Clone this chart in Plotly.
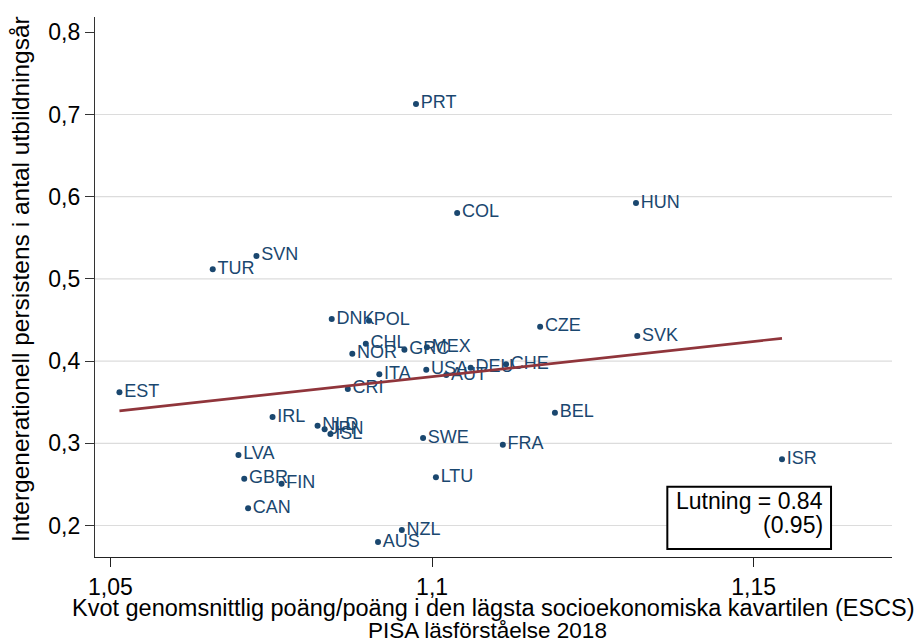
import plotly.graph_objects as go

countries = ["PRT", "COL", "HUN", "SVN", "TUR", "DNK", "POL", "CHL", "NOR", "GRC",
             "MEX", "CZE", "SVK", "ITA", "CRI", "USA", "AUT", "DEU", "CHE", "EST",
             "IRL", "NLD", "JPN", "ISL", "BEL", "SWE", "FRA", "ISR", "LVA", "GBR",
             "FIN", "LTU", "CAN", "NZL", "AUS"]
ratio = [1.0975, 1.1039, 1.1317, 1.0727, 1.0659, 1.0844, 1.0902, 1.0897, 1.0876, 1.0957,
         1.0992, 1.1168, 1.1319, 1.0918, 1.0869, 1.0991, 1.1022, 1.1060, 1.1115, 1.0514,
         1.0752, 1.0822, 1.0833, 1.0842, 1.1191, 1.0986, 1.1110, 1.1544, 1.0699, 1.0708,
         1.0766, 1.1006, 1.0714, 1.0953, 1.0916]
persistence = [0.7128, 0.5802, 0.5923, 0.5279, 0.5117, 0.4512, 0.4491, 0.4212, 0.4090, 0.4139,
               0.4168, 0.4418, 0.4305, 0.3839, 0.3661, 0.3895, 0.3831, 0.3920, 0.3961, 0.3620,
               0.3320, 0.3214, 0.3170, 0.3113, 0.3372, 0.3064, 0.2983, 0.2805, 0.2858, 0.2569,
               0.2509, 0.2586, 0.2209, 0.1945, 0.1799]

fit_slope = 0.856
fit_intercept = -0.5605

x_ticks = [1.05, 1.1, 1.15]
x_ticktext = ["1,05", "1,1", "1,15"]
y_ticks = [0.2, 0.3, 0.4, 0.5, 0.6, 0.7, 0.8]
y_ticktext = ["0,2", "0,3", "0,4", "0,5", "0,6", "0,7", "0,8"]
grid_vals = [0.2, 0.3, 0.4, 0.5, 0.6, 0.7]

NAVY = "#1a476f"
MAROON = "#90353b"
FONT = "Liberation Sans, Arial, sans-serif"

fx = [min(ratio), max(ratio)]
fy = [fit_intercept + fit_slope * v for v in fx]

fig = go.Figure()
fig.add_trace(go.Scatter(
    x=ratio, y=persistence, mode="markers+text", text=countries,
    textposition="middle right",
    marker=dict(color=NAVY, size=6),
    textfont=dict(color=NAVY, size=18, family=FONT),
    cliponaxis=False, showlegend=False, hoverinfo="skip"))
fig.add_trace(go.Scatter(
    x=fx, y=fy, mode="lines", line=dict(color=MAROON, width=2.6),
    showlegend=False, hoverinfo="skip"))

shapes = []
for g in grid_vals:
    shapes.append(dict(type="line", xref="paper", yref="y", x0=0, x1=1, y0=g, y1=g,
                       line=dict(color="#dcdcdc", width=1.2), layer="below"))
# legend-like box
shapes.append(dict(type="rect", xref="paper", yref="paper", x0=0.7181, x1=0.9235,
                   y0=0.0148, y1=0.1302, line=dict(color="black", width=2),
                   fillcolor="white", layer="above"))

annotations = [
    dict(text="Lutning = 0.84", xref="paper", yref="paper", x=0.9160, y=0.1043,
         xanchor="right", yanchor="middle", showarrow=False,
         font=dict(size=23, color="black", family=FONT)),
    dict(text="(0.95)", xref="paper", yref="paper", x=0.9160, y=0.0593,
         xanchor="right", yanchor="middle", showarrow=False,
         font=dict(size=23, color="black", family=FONT)),
    dict(text="Kvot genomsnittlig poäng/poäng i den lägsta socioekonomiska kavartilen (ESCS)",
         xref="paper", yref="paper", x=0.4994, y=-0.0944, xanchor="center", yanchor="middle",
         showarrow=False, font=dict(size=23.5, color="black", family=FONT)),
    dict(text="PISA läsförståelse 2018",
         xref="paper", yref="paper", x=0.493, y=-0.137, xanchor="center", yanchor="middle",
         showarrow=False, font=dict(size=22.5, color="black", family=FONT)),
    dict(text="Intergenerationell persistens i antal utbildningsår",
         xref="paper", yref="paper", x=-0.0928, y=0.515, xanchor="center", yanchor="middle",
         textangle=-90, showarrow=False, font=dict(size=24.5, color="black", family=FONT)),
]

fig.update_layout(
    width=916, height=642,
    margin=dict(l=95, r=24, t=17, b=85),
    paper_bgcolor="white", plot_bgcolor="white",
    font=dict(family=FONT, size=23, color="black"),
    shapes=shapes, annotations=annotations,
    xaxis=dict(range=[1.0476, 1.1715], tickvals=x_ticks, ticktext=x_ticktext,
               showgrid=False, zeroline=False, showline=True, linecolor="#222",
               linewidth=1.3, ticks="outside", ticklen=9, tickcolor="#222", tickwidth=1.3,
               tickfont=dict(size=23, family=FONT, color="black")),
    yaxis=dict(range=[0.1617, 0.8186], tickvals=y_ticks, ticktext=y_ticktext,
               showgrid=False, zeroline=False, showline=True, linecolor="#333",
               linewidth=1.3, ticks="outside", ticklen=9, tickcolor="#333", tickwidth=1.3,
               tickfont=dict(size=23, family=FONT, color="black")),
)

fig.write_html("out.html", config={"displayModeBar": False},
               post_script="document.body.style.margin='0px';document.body.style.overflow='hidden';")
